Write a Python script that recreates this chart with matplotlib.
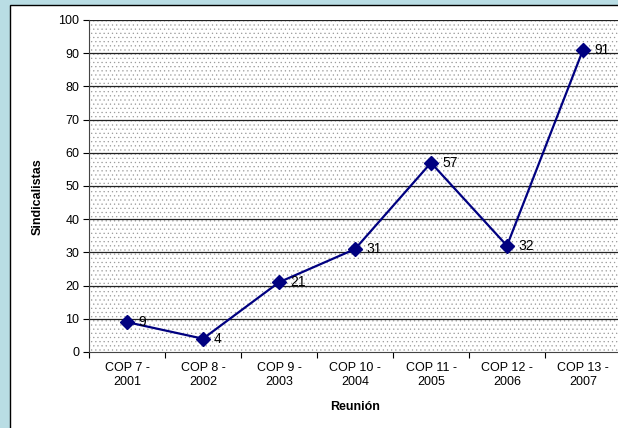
import matplotlib
matplotlib.use("Agg")
import matplotlib.pyplot as plt
from matplotlib.patches import Rectangle

categories = ["COP 7 -\n2001", "COP 8 -\n2002", "COP 9 -\n2003", "COP 10 -\n2004",
              "COP 11 -\n2005", "COP 12 -\n2006", "COP 13 -\n2007"]
values = [9, 4, 21, 31, 57, 32, 91]
yticks = list(range(0, 101, 10))

plt.rcParams['font.family'] = ['Liberation Sans', 'DejaVu Sans']
plt.rcParams['hatch.color'] = '#9a9a9a'
plt.rcParams['hatch.linewidth'] = 0.4

fig = plt.figure(figsize=(6.18, 4.28), dpi=100)
fig.patch.set_facecolor('#b9dde4')
frame = Rectangle((10/618, -0.1), 1.0, (428-5)/428 + 0.1, transform=fig.transFigure,
                  facecolor='white', edgecolor='black', linewidth=1.0, zorder=-5)
fig.patches.append(frame)

ax = fig.add_axes([89/618, (428-352)/428, (621-89)/618, (352-20)/428])
ax.set_zorder(1)
ax.set_facecolor('white')
ax.add_patch(Rectangle((0, 0), 1, 1, transform=ax.transAxes, facecolor='white',
                       hatch='....', edgecolor='#9a9a9a', linewidth=0, zorder=0))
x = list(range(len(values)))
ax.set_xlim(-0.5, len(values) - 0.5)
ax.set_ylim(0, 100)
ax.set_yticks(yticks)
ax.tick_params(axis='y', labelsize=9, length=4, width=0.8, pad=3)
ax.set_xticks(x)
ax.set_xticklabels(categories, fontsize=9, linespacing=1.25)
ax.tick_params(axis='x', which='major', length=0, pad=7)
ax.set_xticks([i + 0.5 for i in range(-1, len(values))], minor=True)
ax.tick_params(axis='x', which='minor', length=4, width=0.8)
for yv in yticks[1:]:
    ax.axhline(yv, color='#222222', linewidth=0.9, zorder=1)

for s in ['top', 'right']:
    ax.spines[s].set_visible(False)
ax.spines['left'].set_color('#444444')
ax.spines['bottom'].set_color('#444444')

ax.plot(x, values, color='#000080', linewidth=1.6, marker='D', markersize=7,
        markerfacecolor='#000080', markeredgecolor='#000080', zorder=3)
for xi, v in zip(x, values):
    ax.annotate(str(v), (xi, v), xytext=(8, 0), textcoords='offset points',
                fontsize=10, va='center', ha='left', zorder=4)

ax.set_ylabel('Sindicalistas', fontsize=9, fontweight='bold')
ax.yaxis.set_label_coords(-(89-44)/(621-89), (352-197)/332)
ax.set_xlabel('Reunión', fontsize=9, fontweight='bold')
ax.xaxis.set_label_coords((355-89)/(621-89), -(401-352)/332)

fig.savefig('out.png', dpi=100, facecolor=fig.get_facecolor())
